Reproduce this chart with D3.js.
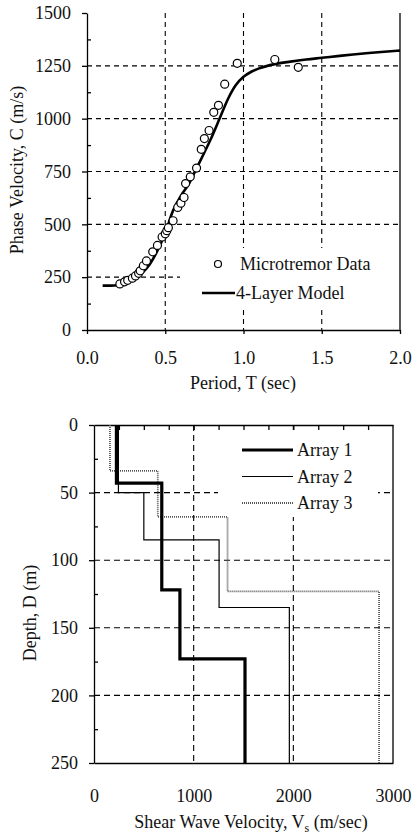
<!DOCTYPE html>
<html>
<head>
<meta charset="utf-8">
<script src="https://cdn.jsdelivr.net/npm/d3@7"></script>
<style>
  body { margin: 0; background: #fff; }
  svg text { font-family: "Liberation Serif", "Times New Roman", serif; fill: #111; }
</style>
</head>
<body>
<div id="chart"></div>
<script>
// microtremor dispersion data (period in sec, phase velocity in m/s)
const obsPeriod = [0.21, 0.24, 0.26, 0.29, 0.31, 0.33, 0.34, 0.36, 0.38, 0.42, 0.45, 0.48, 0.50, 0.51, 0.52, 0.55, 0.58, 0.60, 0.62, 0.63, 0.66, 0.70, 0.73, 0.75, 0.78, 0.81, 0.84, 0.88, 0.96, 1.20, 1.35];
const obsVelocity = [218, 228, 235, 245, 256, 268, 280, 304, 327, 370, 400, 440, 455, 470, 484, 517, 580, 600, 627, 693, 725, 766, 855, 906, 944, 1030, 1063, 1163, 1262, 1280, 1243];

// 4-layer model curve
const modelPeriod = [0.1, 0.15, 0.2, 0.25, 0.3, 0.35, 0.4, 0.45, 0.5, 0.55, 0.6, 0.65, 0.7, 0.75, 0.8, 0.85, 0.9, 0.95, 1.0, 1.05, 1.1, 1.2, 1.3, 1.4, 1.5, 1.6, 1.7, 1.8, 1.9, 2.0];
const modelVelocity = [210, 210, 212, 222, 242, 268, 310, 375, 460, 565, 635, 690, 765, 840, 918, 1005, 1092, 1158, 1198, 1222, 1238, 1258, 1270, 1280, 1288, 1296, 1304, 1311, 1317, 1322];

// shear wave velocity profiles: layer Vs (m/sec) and layer bottom depth (m)
const array1Vs = [225, 680, 862, 1515];
const array1Bottom = [43, 122, 173, 250];
const array2Vs = [245, 500, 1255, 1960];
const array2Bottom = [50, 85, 135, 250];
const array3Vs = [160, 640, 1340, 2860];
const array3Bottom = [34, 68, 123, 250];

const periodTicks = [0, 0.5, 1.0, 1.5, 2.0];
const phaseTicks = [0, 250, 500, 750, 1000, 1250, 1500];
const vsTicks = [0, 1000, 2000, 3000];
const depthTicks = [0, 50, 100, 150, 200, 250];

const W = 414, H = 836;
const SERIF = '"Liberation Serif", "Times New Roman", serif';
const svg = d3.select('#chart').append('svg')
  .attr('width', W)
  .attr('height', H)
  .style('font-family', SERIF);

const FONT = 18;

// ---------- top chart: dispersion curve ----------
const x1 = d3.scaleLinear().domain([0, 2]).range([87, 400]);
const y1 = d3.scaleLinear().domain([0, 1500]).range([330, 13]);

const gTop = svg.append('g');

// grid
gTop.append('g').selectAll('line').data([0.5, 1.0, 1.5]).join('line')
  .attr('x1', d => x1(d)).attr('x2', d => x1(d))
  .attr('y1', y1(1500)).attr('y2', y1(0))
  .attr('stroke', '#000').attr('stroke-width', 1.1).attr('stroke-dasharray', '5,4');
gTop.append('g').selectAll('line').data([250, 500, 750, 1000, 1250]).join('line')
  .attr('x1', x1(0)).attr('x2', x1(2))
  .attr('y1', d => y1(d)).attr('y2', d => y1(d))
  .attr('stroke', '#000').attr('stroke-width', 1.1).attr('stroke-dasharray', '5,4');

// legend background hides grid behind it
gTop.append('rect').attr('x', 180).attr('y', 248).attr('width', 218).attr('height', 58).attr('fill', '#fff');

// axes
const xAxis1 = gTop.append('g')
  .attr('transform', `translate(0,${y1(0)})`)
  .call(d3.axisBottom(x1).tickValues(periodTicks).tickFormat(d3.format('.1f')).tickSizeInner(4).tickSizeOuter(0).tickPadding(17));
const yAxis1 = gTop.append('g')
  .attr('transform', `translate(${x1(0)},0)`)
  .call(d3.axisLeft(y1).tickValues(phaseTicks).tickFormat(d3.format('d')).tickSizeInner(5).tickSizeOuter(0).tickPadding(11));
gTop.append('g')
  .attr('transform', `translate(${x1(0)},0)`)
  .call(d3.axisRight(y1).tickValues([125, 375, 625, 875, 1125, 1375]).tickFormat('').tickSizeInner(4).tickSizeOuter(0))
  .call(g => g.select('.domain').remove());
gTop.append('line')
  .attr('x1', x1(2)).attr('x2', x1(2)).attr('y1', y1(1500)).attr('y2', y1(0))
  .attr('stroke', '#000').attr('stroke-width', 1.3);

[xAxis1, yAxis1].forEach(a => {
  a.attr('font-family', null);
  a.selectAll('text').attr('font-size', FONT).attr('fill', '#111').style('font-family', SERIF);
});
gTop.selectAll('.tick line, .domain').attr('stroke', '#000').attr('stroke-width', 1.3);

// model curve
const line1 = d3.line()
  .x((d, i) => x1(modelPeriod[i]))
  .y(d => y1(d))
  .curve(d3.curveMonotoneX);
gTop.append('path')
  .datum(modelVelocity)
  .attr('d', line1)
  .attr('fill', 'none')
  .attr('stroke', '#000')
  .attr('stroke-width', 2.6);

// observed points
gTop.append('g').selectAll('circle').data(obsVelocity).join('circle')
  .attr('cx', (d, i) => x1(obsPeriod[i]))
  .attr('cy', d => y1(d))
  .attr('r', 4)
  .attr('fill', '#fff')
  .attr('stroke', '#000')
  .attr('stroke-width', 1.2);

// legend
gTop.append('circle').attr('cx', 218).attr('cy', 264).attr('r', 3.5)
  .attr('fill', '#fff').attr('stroke', '#000').attr('stroke-width', 1.2);
gTop.append('text').attr('x', 240).attr('y', 270).attr('font-size', FONT).text('Microtremor Data');
gTop.append('line').attr('x1', 202).attr('x2', 235).attr('y1', 293).attr('y2', 293)
  .attr('stroke', '#000').attr('stroke-width', 2.6);
gTop.append('text').attr('x', 236).attr('y', 299).attr('font-size', FONT).text('4-Layer Model');

// titles
gTop.append('text').attr('x', 243).attr('y', 389).attr('text-anchor', 'middle')
  .attr('font-size', FONT).text('Period, T (sec)');
gTop.append('text')
  .attr('transform', 'translate(23,170) rotate(-90)')
  .attr('text-anchor', 'middle')
  .attr('font-size', FONT).text('Phase Velocity, C (m/s)');

// ---------- bottom chart: Vs profiles ----------
const x2 = d3.scaleLinear().domain([0, 3000]).range([94, 393]);
const y2 = d3.scaleLinear().domain([0, 250]).range([425, 763]);

const gBot = svg.append('g');

gBot.append('g').selectAll('line').data([1000, 2000]).join('line')
  .attr('x1', d => x2(d)).attr('x2', d => x2(d))
  .attr('y1', y2(0)).attr('y2', y2(250))
  .attr('stroke', '#000').attr('stroke-width', 1.1).attr('stroke-dasharray', '6,4');
gBot.append('g').selectAll('line').data([50, 100, 150, 200]).join('line')
  .attr('x1', x2(0)).attr('x2', x2(3000))
  .attr('y1', d => y2(d)).attr('y2', d => y2(d))
  .attr('stroke', '#000').attr('stroke-width', 1.1).attr('stroke-dasharray', '6,4');

gBot.append('rect').attr('x', 218).attr('y', 430).attr('width', 160).attr('height', 87).attr('fill', '#fff');

const xAxis2 = gBot.append('g')
  .attr('transform', `translate(0,${y2(250)})`)
  .call(d3.axisBottom(x2).tickValues(vsTicks).tickFormat(d3.format('d')).tickSize(0).tickPadding(26));
const yAxis2 = gBot.append('g')
  .attr('transform', `translate(${x2(0)},0)`)
  .call(d3.axisLeft(y2).tickValues(depthTicks).tickSizeInner(5).tickSizeOuter(0).tickPadding(11));
gBot.append('g')
  .attr('transform', `translate(${x2(0)},0)`)
  .call(d3.axisRight(y2).tickValues([25, 75, 125, 175, 225]).tickFormat('').tickSizeInner(4).tickSizeOuter(0))
  .call(g => g.select('.domain').remove());
gBot.append('g')
  .attr('transform', `translate(0,${y2(0)})`)
  .call(d3.axisBottom(x2).tickValues(d3.range(250, 3000, 250)).tickFormat('').tickSizeInner(5).tickSizeOuter(0));
gBot.append('line')
  .attr('x1', x2(3000)).attr('x2', x2(3000)).attr('y1', y2(0)).attr('y2', y2(250))
  .attr('stroke', '#000').attr('stroke-width', 1.3);

[xAxis2, yAxis2].forEach(a => {
  a.attr('font-family', null);
  a.selectAll('text').attr('font-size', FONT).attr('fill', '#111').style('font-family', SERIF);
});
gBot.selectAll('.tick line, .domain').attr('stroke', '#000').attr('stroke-width', 1.3);

// step profile path from layer data
function profile(vs, bottom) {
  const pts = [];
  let topD = 0;
  vs.forEach((v, i) => {
    pts.push([v, topD]);
    pts.push([v, bottom[i]]);
    topD = bottom[i];
  });
  return pts;
}
const line2 = d3.line().x(d => x2(d[0])).y(d => y2(d[1]));

const arrays = [
  { name: 'Array 1', vs: array1Vs, bottom: array1Bottom, width: 3.2, color: '#000', dash: null },
  { name: 'Array 2', vs: array2Vs, bottom: array2Bottom, width: 1.2, color: '#000', dash: null },
  { name: 'Array 3', vs: array3Vs, bottom: array3Bottom, width: 1.8, color: '#555', dash: '1,1' }
];

// draw array 3 and 2 first so the thick line sits on top
[arrays[2], arrays[1], arrays[0]].forEach(a => {
  gBot.append('path')
    .datum(profile(a.vs, a.bottom))
    .attr('d', line2)
    .attr('fill', 'none')
    .attr('stroke', a.color)
    .attr('stroke-width', a.width)
    .attr('stroke-dasharray', a.dash);
});

// legend
arrays.forEach((a, i) => {
  const ly = 450 + i * 26.5;
  gBot.append('line').attr('x1', 242).attr('x2', 293).attr('y1', ly).attr('y2', ly)
    .attr('stroke', a.color).attr('stroke-width', a.width).attr('stroke-dasharray', a.dash);
  gBot.append('text').attr('x', 297).attr('y', ly + 6).attr('font-size', FONT).text(a.name);
});

// titles
const xt = gBot.append('text').attr('x', 251).attr('y', 828).attr('text-anchor', 'middle').attr('font-size', FONT);
xt.append('tspan').text('Shear Wave Velocity, V');
xt.append('tspan').attr('font-size', 12).attr('dy', 4).text('s');
xt.append('tspan').attr('dy', -4).text(' (m/sec)');

gBot.append('text')
  .attr('transform', 'translate(36,613) rotate(-90)')
  .attr('text-anchor', 'middle')
  .attr('font-size', FONT).text('Depth, D (m)');
</script>
</body>
</html>
